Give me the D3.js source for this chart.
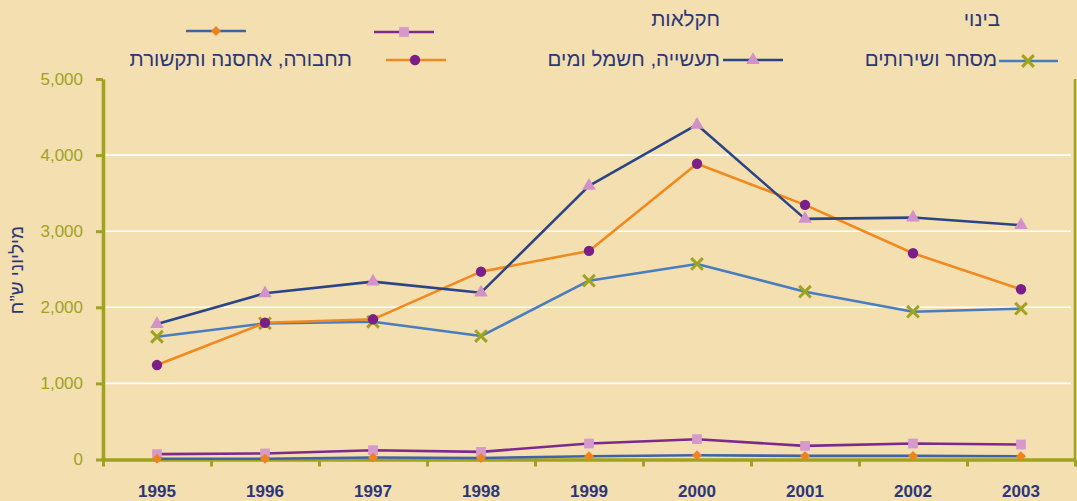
<!DOCTYPE html>
<html><head><meta charset="utf-8">
<script src="https://cdn.jsdelivr.net/npm/d3@7"></script>
<style>
html,body{margin:0;padding:0;background:#F3DFB0;}
svg{display:block;}
text{font-family:"Liberation Sans",Arial,"DejaVu Sans",sans-serif;}
</style></head>
<body>
<svg id="c" width="1077" height="501"></svg>
<script>
const years = ["1995","1996","1997","1998","1999","2000","2001","2002","2003"];
const commerce = [1613,1789,1810,1622,2350,2570,2205,1942,1982];
const industry = [1780,2184,2337,2192,3596,4399,3162,3179,3079];
const transport = [1241,1797,1842,2468,2741,3886,3346,2710,2237];
const agriculture = [70,79,122,100,210,267,179,210,197];
const construction = [10,10,26,20,43,56,47,47,43];
const yTicks = [0,1000,2000,3000,4000,5000];
const yTitle = "מיליוני ש\u201Dח";
const legendTexts = ["בינוי","חקלאות","מסחר ושירותים","תעשייה, חשמל ומים","תחבורה, אחסנה ותקשורת"];

const OLIVE = "#9FA31F", NAVY = "#2B3777", BG = "#F3DFB0";
const svg = d3.select("#c");
svg.append("rect").attr("width",1077).attr("height",501).attr("fill",BG);

const L = 103, R = 1075, T = 79, B = 459.5;
const x = d3.scaleBand().domain(years).range([L,R]);
const cx = d => x(d) + x.bandwidth()/2;
const y = d3.scaleLinear().domain([0,5000]).range([B,T]);

// gridlines
svg.append("g").selectAll("line").data(yTicks.filter(v=>v>0 && v<5000)).join("line")
  .attr("x1",L).attr("x2",R-4).attr("y1",d=>y(d)).attr("y2",d=>y(d))
  .attr("stroke","#fff").attr("stroke-width",1.6);

// right border
svg.append("line").attr("x1",R).attr("x2",R).attr("y1",T).attr("y2",B)
  .attr("stroke",OLIVE).attr("stroke-width",2.5);

// marker symbols
const sym = {
  diamond: d3.symbol().type(d3.symbolSquare).size(50),
  square: d3.symbol().type(d3.symbolSquare).size(95),
  triangle: d3.symbol().type(d3.symbolTriangle).size(80),
  circle: d3.symbol().type(d3.symbolCircle).size(85),
  cross: d3.symbol().type(d3.symbolX).size(90)
};

const series = [
  {vals: agriculture, line:"#7D2A8C", mk:"#D699CC", sym:"square"},
  {vals: construction, line:"#3F63A6", mk:"#EE8420", sym:"diamond"},
  {vals: commerce, line:"#4A7DBE", mk:OLIVE, sym:"cross"},
  {vals: transport, line:"#F08A1E", mk:"#7A1F88", sym:"circle"},
  {vals: industry, line:"#2B4485", mk:"#D291C8", sym:"triangle"}
];

const lineGen = d3.line().x((d,i)=>cx(years[i])).y(d=>y(d));

function drawMarker(g, s, tx, ty){
  const p = g.append("path").attr("d", sym[s.sym]()).attr("transform",`translate(${tx},${ty})`);
  if (s.sym === "cross") p.attr("fill","none").attr("stroke",s.mk).attr("stroke-width",3);
  else p.attr("fill",s.mk);
  if (s.sym === "diamond") p.attr("transform",`translate(${tx},${ty}) rotate(45)`);
}

// axes
const yAxis = d3.axisLeft(y).tickValues(yTicks).tickFormat(d3.format(",")).tickSize(7).tickSizeOuter(0).tickPadding(13);
const gy = svg.append("g").attr("transform",`translate(${L},0)`).call(yAxis);
gy.select(".domain").attr("stroke",OLIVE).attr("stroke-width",3.5);
gy.selectAll(".tick line").attr("stroke",OLIVE).attr("stroke-width",3);
gy.selectAll(".tick text").attr("fill",OLIVE).attr("font-size",17).style("font-family","'Liberation Sans',Arial,sans-serif");

const xi = d3.scaleLinear().domain([0,years.length]).range([L,R]);
const gxt = svg.append("g").attr("transform",`translate(0,${B})`)
  .call(d3.axisBottom(xi).ticks(years.length).tickFormat("").tickSize(7).tickSizeOuter(0));
gxt.select(".domain").attr("stroke",OLIVE).attr("stroke-width",3.5);
gxt.selectAll(".tick line").attr("stroke",OLIVE).attr("stroke-width",3);

const gx = svg.append("g").attr("transform",`translate(0,${B})`)
  .call(d3.axisBottom(x).tickSize(0).tickPadding(25));
gx.select(".domain").remove();
gx.selectAll(".tick text").attr("fill",NAVY).attr("font-size",17).attr("font-weight","bold")
  .style("font-family","'Liberation Sans',Arial,sans-serif");

// series
series.forEach(s=>{
  const g = svg.append("g");
  g.append("path").datum(s.vals).attr("d",lineGen).attr("fill","none")
    .attr("stroke",s.line).attr("stroke-width",2.6).attr("stroke-linejoin","round");
  s.vals.forEach((v,i)=>drawMarker(g,s,cx(years[i]),y(v)));
});

// y title
svg.append("text").attr("transform","translate(23,270) rotate(-90)")
  .attr("text-anchor","middle").attr("fill",NAVY).attr("font-size",19)
  .text(yTitle);

// legend
const lg = svg.append("g");
function legendSym(s, x1, x2, yy, mx){
  lg.append("line").attr("x1",x1).attr("x2",x2).attr("y1",yy).attr("y2",yy)
    .attr("stroke",s.line).attr("stroke-width",2.6);
  drawMarker(lg, s, mx, yy);
}
function legendText(t, xr, yb){
  lg.append("text").attr("x",xr).attr("y",yb).attr("text-anchor","end")
    .attr("fill",NAVY).attr("font-size",20.5).text(t);
}
legendText(legendTexts[0], 1000, 26);
legendText(legendTexts[1], 720, 26);
legendSym(series[0], 374, 434, 32, 404);
legendSym(series[1], 186, 246, 31, 216);
legendSym(series[2], 999, 1058, 61, 1028);
legendText(legendTexts[2], 997, 66);
legendSym(series[4], 723, 783, 60, 753);
legendText(legendTexts[3], 720, 66);
legendSym(series[3], 386, 446, 60, 415);
legendText(legendTexts[4], 352, 66);
</script>
</body></html>
